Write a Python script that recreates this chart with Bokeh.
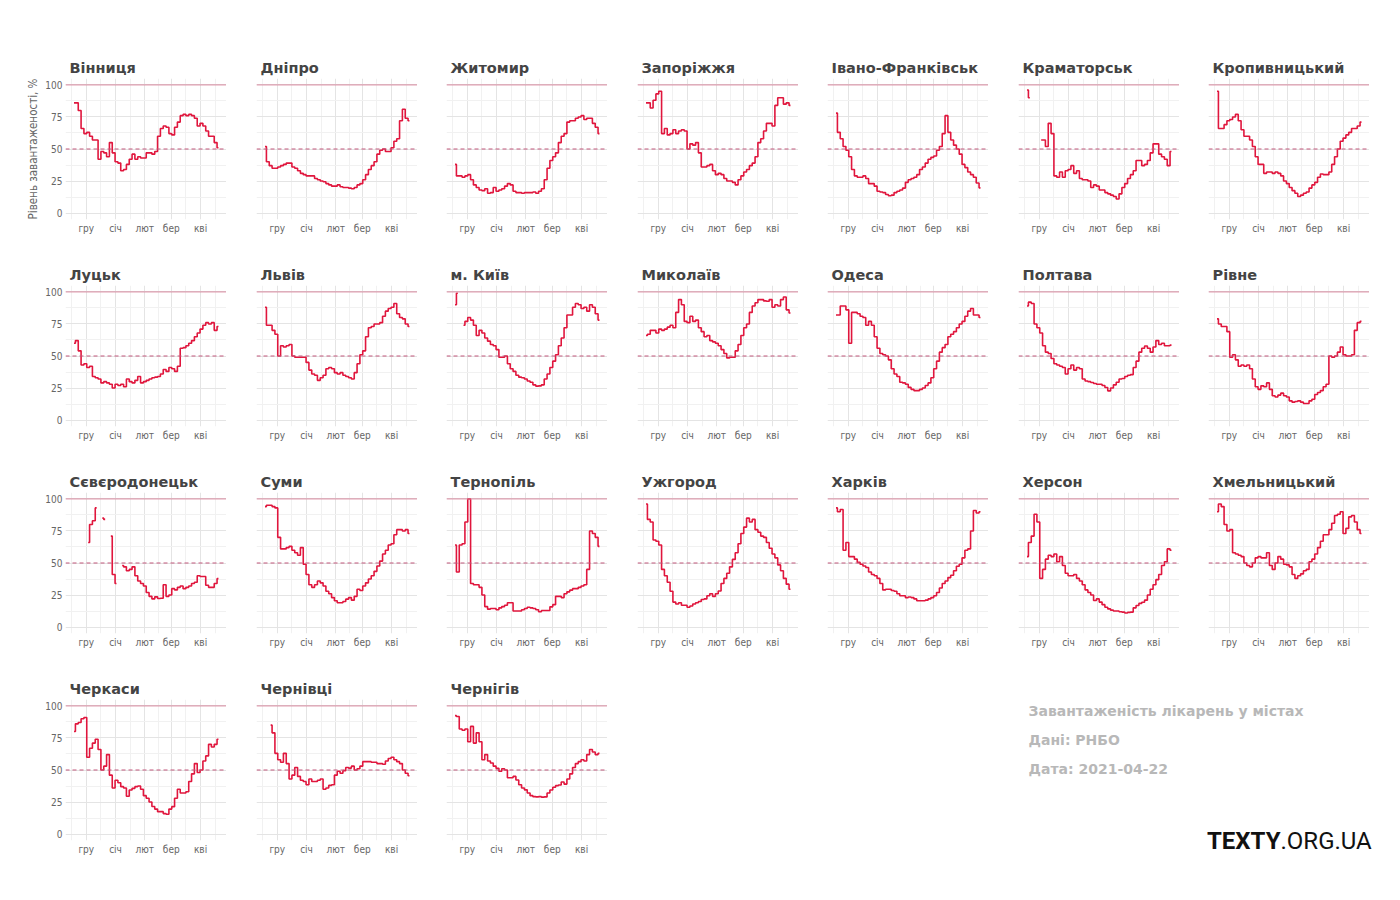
import pandas as pd
from bokeh.plotting import figure
from bokeh.layouts import column, row
from bokeh.models import Range1d, FixedTicker, Span, Label, Spacer
from bokeh.embed import file_html
from bokeh.resources import INLINE

nan = float("nan")

# ---- data: hospital load (%) sampled every 3 days from 2020-11-18 ----
start_date = "2020-11-18"
step_days = 3
n_points = 52

month_labels = ["гру", "січ", "лют", "бер", "кві"]
month_starts = ["2020-12-01", "2021-01-01", "2021-02-01", "2021-03-01", "2021-04-01"]
y_ticks = [0, 25, 50, 75, 100]

vinnytsia = [86, 86, 80, 66, 62, 63, 60, 57, 57, 42, 48, 47, 44, 55, 47, 40, 39, 33, 34, 38, 42, 46, 42, 44, 43, 43,
             47, 47, 46, 48, 60, 66, 68, 67, 62, 61, 67, 71, 76, 77, 76, 77, 76, 74, 68, 70, 68, 64, 60, 60, 55, 51]
dnipro = [52, 40, 37, 35, 35, 36, 37, 38, 39, 39, 36, 35, 33, 31, 30, 29, 29, 29, 27, 26, 25, 24.5, 23, 22, 21, 21,
          22, 20.5, 20, 20, 19.5, 19, 20, 22, 23, 26, 30, 34, 37, 40, 46, 49, 50, 48, 48, 51, 56, 58, 72, 81, 74, 72]
zhytomyr = [38, 29, 29, 28, 29, 30, 26, 22, 20, 18, 17.5, 19, 15.5, 16, 20, 17, 18, 19, 21, 23, 22, 17, 16, 16, 15.5, 16,
            16, 16, 16.5, 15.5, 17, 19, 26, 35, 41, 44, 47, 55, 60, 62, 71, 72, 72, 74, 75, 76, 73, 74, 74, 70, 67, 62]
zaporizhzhia = [86, 86, 82, 88, 93, 95, 62, 66, 61, 62, 65, 62, 64, 65, 64, 50, 54, 53, 55, 47, 36, 36, 37, 38, 33, 30,
                31, 30, 27, 25, 25, 24, 22, 26, 29, 32, 34, 37, 39, 44, 55, 58, 64, 70, 70, 68, 84, 90, 90, 85, 86, 84]
ivano_frankivsk = [78, 63, 58, 52, 49, 44, 34, 29, 28, 28, 29, 27, 23, 23, 21, 17, 16.5, 16, 14.5, 13.5, 14, 16, 17, 18,
                   19.5, 24, 26, 27, 28, 30, 34, 36, 39, 42, 43.5, 44.5, 49, 52, 62, 76, 63, 57, 53, 50, 46, 38, 35.5,
                   32, 30, 28, 23.5, 19.7]
kramatorsk = [96, 90, nan, nan, nan, 57, 57, 52, 70, 62, 29, 28, 32, 28, 33, 34, 37, 31, 33, 27, 26, 26, 25, 20, 22, 21,
              18, 18, 16, 15, 14, 13, 11, 15, 20, 23, 27, 30, 33, 41, 41, 37, 38, 41, 47, 54, 54, 46, 44, 42, 37, 48]
kropyvnytskyi = [95, 66, 66, 69, 72, 73, 75, 77, 72, 65, 60, 60, 57, 52, 44, 38, 38, 31, 32, 32, 31, 32, 31, 29, 25, 23,
                 20, 17.5, 15.5, 13, 14, 15.5, 16.5, 19.5, 22, 24, 28, 30.5, 30, 30, 32, 38, 44, 50, 56, 58.5, 61, 63,
                 66, 66, 68, 71]
lutsk = [60, 62, 54, 43, 44, 41, 42, 34, 33, 32, 29, 30, 29, 28, 25, 28, 27, 28, 26, 32, 30, 29, 31, 34, 29, 30,
         31, 32, 33, 33.5, 34, 36, 39.5, 38, 41, 40, 38, 42, 56, 56.5, 58, 60, 62, 65, 68, 71, 74, 76, 75, 76, 70, 73]
lviv = [88, 74, 74, 70, 67, 50, 58, 57, 58, 59, 50, 49, 49, 49, 49, 45, 39, 36, 35, 31, 33, 35, 40, 41, 40, 37,
        36, 37, 35, 34, 33, 32, 37, 44, 51, 54, 65, 72, 73, 75, 75, 76, 81, 85, 87, 88, 91, 83, 80, 79, 75, 73]
kyiv = [90, 99, nan, 74, 77, 80, 78, 74, 66, 70, 68, 64, 61.6, 59, 58, 55, 49, 49, 50, 44, 40, 38, 35, 33.5, 33, 32,
        30.5, 29.5, 27.5, 26.5, 26.7, 27.5, 32, 36, 41, 46, 51, 58, 64, 72, 82, 82, 88, 91, 90, 87, 88, 85, 90, 88,
        83, 78]
mykolaiv = [66, 67, 70, 70, 68, 71, 70, 71, 72.5, 74, 72, 84, 94, 90, 77, 76, 81, 77, 78, 72, 69, 65, 66, 62, 61, 60,
            58, 55, 52, 48.5, 49, 49, 54, 59, 66, 72, 75, 84, 89, 91.5, 94, 94, 93, 92.7, 94, 88, 90, 89, 94, 96, 86,
            83.5]
odesa = [82, 82, 89, 89, 86, 60, 84, 84, 83, 81, 80, 74, 77, 74, 65, 56, 52, 51, 50, 47, 40, 36, 34, 29.5, 29, 28,
         25.5, 24, 23, 23, 24, 25, 27, 29, 33, 40, 46, 53, 56.5, 59, 65, 67, 69, 72, 75, 77, 81, 85, 87, 82, 82, 80]
poltava = [89, 92, 91, 75, 72, 68, 58, 53, 52, 48, 44, 43, 42, 41, 36, 40, 43, 39, 41, 40, 32, 30.5, 30, 29.3, 28.5,
           28, 28, 27, 25.4, 22.8, 25, 27.5, 29.5, 32, 32.5, 34, 35, 35.5, 41, 46, 53, 56, 57.8, 56, 53, 57, 62, 59,
           60, 58, 58, 58.5]
rivne = [79, 75, 73, 73, 69, 49, 51, 47, 42, 43, 42, 43, 40, 32, 26, 24, 26.7, 26, 29, 24, 19, 18, 19.5, 21, 19, 18,
         15, 14, 14.5, 15, 14, 13, 13, 15, 16.3, 20, 21.5, 23, 26, 28, 50, 49, 50, 53, 57, 51, 50, 50, 51, 70, 76, 77]
sievierodonetsk = [nan, nan, nan, nan, nan, 66, 80, 83, 93, nan, 85, 84, nan, 71, 41, 34, nan, 48, 47, 44, 45, 47, 40,
                   36, 34, 32, 27, 24, 22, 23.6, 22.3, 22.5, 33, 24, 25, 30, 29, 31, 32, 30, 31, 32, 34, 35, 40, 39.5,
                   39.5, 32.6, 31, 31, 34, 37.8]
sumy = [94, 95, 95, 94, 93, 70, 61, 61, 62, 63, 60, 58, 56, 62, 49, 41, 33, 31, 33, 36, 34.5, 32, 28, 26, 23, 20.5,
        19, 19, 20, 21.8, 23, 21, 24, 29.5, 28.5, 32, 34.5, 37.5, 40, 43.5, 47.7, 51.5, 57, 60, 64, 65, 72, 76, 76,
        75, 76, 73]
ternopil = [64, 43, 64, 65, 82, 100, 34, 33, 33, 31, 25, 16, 14, 14.5, 14.5, 13.5, 15, 16, 17, 19, 19, 12.5, 12.5,
            12.5, 13.5, 14.5, 15.5, 15, 14.5, 13.5, 12, 13, 13, 13, 15.8, 17.5, 24, 24, 23, 26, 27.5, 28.8, 30, 30,
            31, 32, 33, 45, 75, 73, 70, 63]
uzhhorod = [96, 84, 82, 68, 67, 64, 45, 40, 35, 28, 19.5, 18, 19, 17, 17, 15.5, 16.5, 18, 19, 20, 21.5, 22, 24.4, 26,
            24, 26, 28.2, 34, 38, 42, 47, 52.8, 58, 65, 73, 78, 85, 82, 84, 76, 74, 71, 70, 66, 61.5, 57, 54, 48.5,
            44, 38, 33.5, 29.5]
kharkiv = [93, 90, 91.7, 60, 66, 55, 55, 53, 50.5, 49, 47.7, 46.5, 43, 41, 40, 38, 34, 29, 29.5, 29.5, 28.5, 28, 26,
           24.5, 24.4, 23, 23.5, 23, 22, 20.5, 20.5, 20.5, 21, 22, 23, 24.4, 27, 30.5, 34, 36, 38.6, 40.5, 44, 47.5,
           49, 54, 60, 61, 75, 91, 89, 90]
kherson = [55, 66, 71, 88, 82, 38, 45, 53, 56, 55, 57, 51, 55, 48, 42, 40, 40, 41, 38, 36, 33, 29, 27, 25, 20.7, 22,
           19.5, 17.5, 15.5, 14.2, 13.2, 12.5, 12.5, 12, 11.7, 11, 11.5, 11.7, 15, 16.8, 18.5, 19.4, 21, 25, 29.5,
           33, 37, 41, 48, 51, 61, 60]
khmelnytskyi = [90, 96, 94, 80, 75, 76, 58, 57, 56, 55, 50, 48, 47, 50, 54, 55, 54, 54, 58, 48, 45, 50, 55, 53, 49,
                48.5, 47, 41, 38, 40, 41.5, 44, 45, 51, 53, 57, 62, 67, 72, 72, 76, 81, 87, 88, 90, 73, 77, 86, 87,
                82, 76, 73]
cherkasy = [80, 86, 87, 90, 91, 60, 67, 71, 74, 66, 50, 53, 62, 46, 36, 42, 40, 37, 36, 29.5, 34.4, 35.7, 37, 37.5,
            35, 30, 28, 25, 21.5, 19.5, 17.5, 17.5, 16, 15.5, 19.5, 21.4, 28, 35, 32, 32, 33, 41, 47, 55, 48, 50, 57,
            61, 70, 68, 70, 74]
chernivtsi = [nan, nan, 85, 79, 63, 58, 56, 63, 55, 43, 46, 52, 45, 42, 41, 38.5, 43, 41, 41, 42, 43, 35, 36, 38,
              38.5, 46, 49, 47.5, 49.5, 52, 51.5, 53, 50, 51, 53, 56.5, 56.5, 56.5, 56, 56, 55, 55, 54.5, 57, 59, 60,
              58, 56.5, 55, 50, 47.5, 45.5]
chernihiv = [92.4, 91.7, 82, 81, 82, 72, 84, 71, 79, 72, 58, 62, 57, 55.5, 53, 51.3, 49, 51, 50, 44, 44, 45, 42.2,
             38.5, 36, 34.5, 32, 30, 29.2, 29, 29.2, 28.8, 29, 32, 34.4, 36.5, 37.8, 38.3, 40.6, 39, 43, 47, 52, 55,
             56.5, 58, 57, 62, 66, 64, 62, 63]

city_names = ["Вінниця", "Дніпро", "Житомир", "Запоріжжя", "Івано-Франківськ", "Краматорськ", "Кропивницький",
              "Луцьк", "Львів", "м. Київ", "Миколаїв", "Одеса", "Полтава", "Рівне",
              "Сєвєродонецьк", "Суми", "Тернопіль", "Ужгород", "Харків", "Херсон", "Хмельницький",
              "Черкаси", "Чернівці", "Чернігів"]
city_values = [vinnytsia, dnipro, zhytomyr, zaporizhzhia, ivano_frankivsk, kramatorsk, kropyvnytskyi,
               lutsk, lviv, kyiv, mykolaiv, odesa, poltava, rivne,
               sievierodonetsk, sumy, ternopil, uzhhorod, kharkiv, kherson, khmelnytskyi,
               cherkasy, chernivtsi, chernihiv]

caption_lines = ["Завантаженість лікарень у містах", "Дані: РНБО", "Дата: 2021-04-22"]
logo_bold, logo_regular = "TEXTY", ".ORG.UA"

# ---- helpers ----
origin = pd.Timestamp("2020-12-01")
dates = pd.date_range(start_date, periods=n_points, freq=f"{step_days}D")
days = [(d - origin).days for d in dates]
month_ticks = [(pd.Timestamp(m) - origin).days for m in month_starts]
minor_x = [month_ticks[0] - (month_ticks[1] - month_ticks[0]) / 2]
minor_x += [(a + b) / 2 for a, b in zip(month_ticks[:-1], month_ticks[1:])]
minor_x += [month_ticks[-1] + (month_ticks[-1] - month_ticks[-2]) / 2]
x_lo = (pd.Timestamp("2020-11-09") - origin).days
x_hi = (pd.Timestamp("2021-04-28") - origin).days + 0.5

RED = "#e0163d"
TICK_FONT = "DejaVu Sans Condensed, Liberation Sans, sans-serif"
TITLE_FONT = "DejaVu Sans"
LEFT_BORDERS = [65, 30, 29, 30, 29, 30, 29]
FRAME_W, FRAME_H = 161, 141
TOP, BOTTOM = 35, 31


def make_panel(name, vals, col, first):
    p = figure(frame_width=FRAME_W, frame_height=FRAME_H,
               min_border_left=LEFT_BORDERS[col], min_border_right=0,
               min_border_top=TOP, min_border_bottom=BOTTOM,
               x_range=Range1d(x_lo, x_hi), y_range=Range1d(-5, 105),
               toolbar_location=None, output_backend="svg", title=name)
    p.outline_line_color = None
    p.background_fill_color = "white"
    p.border_fill_color = "white"
    p.title.text_font = TITLE_FONT
    p.title.text_font_style = "bold"
    p.title.text_font_size = "14.5px"
    p.title.text_color = "#444444"
    p.title.align = "left"
    p.title.offset = 4
    p.title.standoff = 6

    xt = FixedTicker(ticks=month_ticks, minor_ticks=minor_x)
    yt = FixedTicker(ticks=y_ticks, minor_ticks=[12.5, 37.5, 62.5, 87.5])
    p.xaxis.ticker = xt
    p.yaxis.ticker = yt
    p.xgrid.ticker = xt
    p.ygrid.ticker = yt
    p.xaxis.major_label_overrides = {t: lab for t, lab in zip(month_ticks, month_labels)}
    for ax in (p.xaxis[0], p.yaxis[0]):
        ax.axis_line_color = None
        ax.major_tick_line_color = None
        ax.minor_tick_line_color = None
        ax.major_tick_out = 0
        ax.major_tick_in = 0
        ax.minor_tick_out = 0
        ax.minor_tick_in = 0
        ax.major_label_text_font = TICK_FONT
        ax.major_label_text_font_size = "10px"
        ax.major_label_text_color = "#666666"
        ax.major_label_standoff = 3
    for g in (p.xgrid[0], p.ygrid[0]):
        g.grid_line_color = "#e4e4e4"
        g.grid_line_width = 1
        g.minor_grid_line_color = "#f1f1f1"
        g.minor_grid_line_width = 1
    if col != 0:
        p.yaxis.visible = False
    else:
        p.yaxis.major_label_standoff = 3
        if first:
            p.yaxis.axis_label = "Рівень завантаженості, %"
            p.yaxis.axis_label_text_font = TICK_FONT
            p.yaxis.axis_label_text_font_style = "normal"
            p.yaxis.axis_label_text_font_size = "11.5px"
            p.yaxis.axis_label_text_color = "#666666"
            p.yaxis.axis_label_standoff = 2

    p.add_layout(Span(location=100, dimension="width", line_color="#d9899f", line_width=1))
    p.add_layout(Span(location=50, dimension="width", line_color="#c2587c", line_width=1.2,
                      line_dash="4 3"))
    p.step(x=days, y=vals, mode="center", line_color=RED, line_width=1.6)
    return p


panels = []
for i, (name, vals) in enumerate(zip(city_names, city_values)):
    panels.append(make_panel(name, vals, i % 7, i == 0))

# caption / logo panel: frame top aligned with the panels' frames; coords are pixels, y from frame bottom
ANN_W, ANN_H = 783, FRAME_H + 20
ann = figure(frame_width=ANN_W, frame_height=ANN_H, toolbar_location=None, output_backend="svg",
             x_axis_location=None, y_axis_location=None,
             min_border_left=0, min_border_right=0, min_border_top=TOP, min_border_bottom=11,
             x_range=Range1d(0, ANN_W), y_range=Range1d(0, ANN_H))
ann.outline_line_color = None
ann.grid.visible = False
ann.background_fill_color = "white"
ann.border_fill_color = "white"
for j, txt in enumerate(caption_lines):
    ann.add_layout(Label(x=421, y=150 - 29 * j, text=txt,
                         text_font=TITLE_FONT, text_font_style="bold", text_font_size="14px",
                         text_color="#b8b8b8", text_baseline="middle"))
ann.add_layout(Label(x=673, y=20, text=logo_bold, text_align="right",
                     text_font="Roboto", text_font_style="bold", text_font_size="24px",
                     text_color="#111111", text_baseline="middle"))
ann.add_layout(Label(x=673, y=20, text=logo_regular, text_align="left",
                     text_font="Roboto", text_font_style="normal", text_font_size="24px",
                     text_color="#111111", text_baseline="middle"))

rows = [row(*panels[r * 7:(r + 1) * 7]) for r in range(3)]
rows.append(row(*panels[21:24], ann))
layout = column(Spacer(height=43), *rows)

open("out.html", "w").write(file_html(layout, INLINE))
